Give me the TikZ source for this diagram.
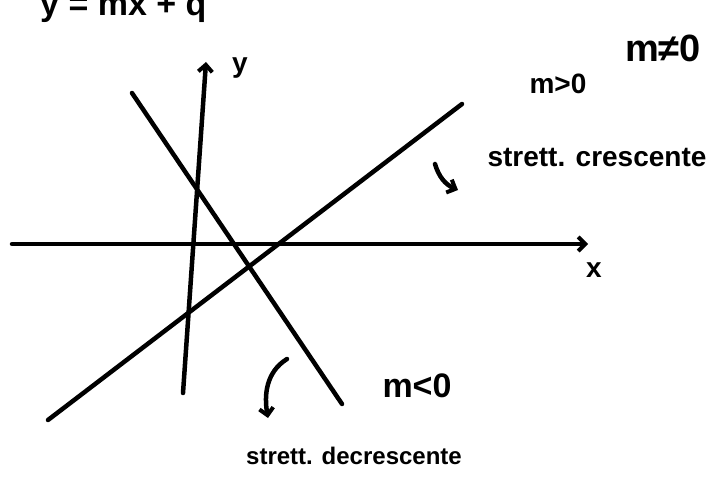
\documentclass[tikz,border=0pt]{standalone}
\usepackage{fontspec}
\setmainfont{Liberation Sans}
\usetikzlibrary{arrows.meta}
\begin{document}
\begin{tikzpicture}[x=1pt,y=-1pt,
  ink/.style={line width=4.5pt, line cap=round, line join=round},
  tip/.style={-{Straight Barb[length=7pt,width=14pt,line width=4pt]}},
  lbl/.style={inner sep=0pt, font=\bfseries\fontsize{#1}{#1}\selectfont},
  lbl/.default=22]
\useasboundingbox (0,0) rectangle (710,481);
\clip (0,0) rectangle (710,481);
% axes
\coordinate (xs) at (12,244);
\coordinate (xe) at (588,244);
\coordinate (ys) at (183,393);
\coordinate (ye) at (206,62);
\draw[ink, tip] (xs) -- (xe);
\draw[ink, tip] (ys) -- (ye);
% lines
\coordinate (ps) at (48,420);
\coordinate (pe) at (462,104);
\coordinate (ns) at (132,93);
\coordinate (ne) at (342,404);
\draw[ink] (ps) -- (pe);
\draw[ink] (ns) -- (ne);
% labels
\node[lbl=34, anchor=base west] (eq) at (40,16) {y = mx + q};
\node[lbl=38] (mne) at (663,48) {m≠0};
\node[lbl=28] (ylab) at (240,68) {y};
\node[lbl=28] (xlab) at (594,270) {x};
\node[lbl=28] (mpos) at (558,84) {m>0};
\node[lbl=34] (mneg) at (417,386) {m<0};
\node[lbl=28] (cres) at (597,158) {strett. crescente};
\node[lbl=24] (decr) at (354,456) {strett. decrescente};
% hooked arrows
\coordinate (h1) at (435,164);
\coordinate (h2) at (458,190);
\draw[ink, tip] (h1) to[bend right=25] (h2);
\coordinate (c1) at (287,359);
\coordinate (c2) at (268,418);
\draw[ink, tip] (c1) .. controls (266,372) and (264,395) .. (c2);
\end{tikzpicture}
\end{document}
